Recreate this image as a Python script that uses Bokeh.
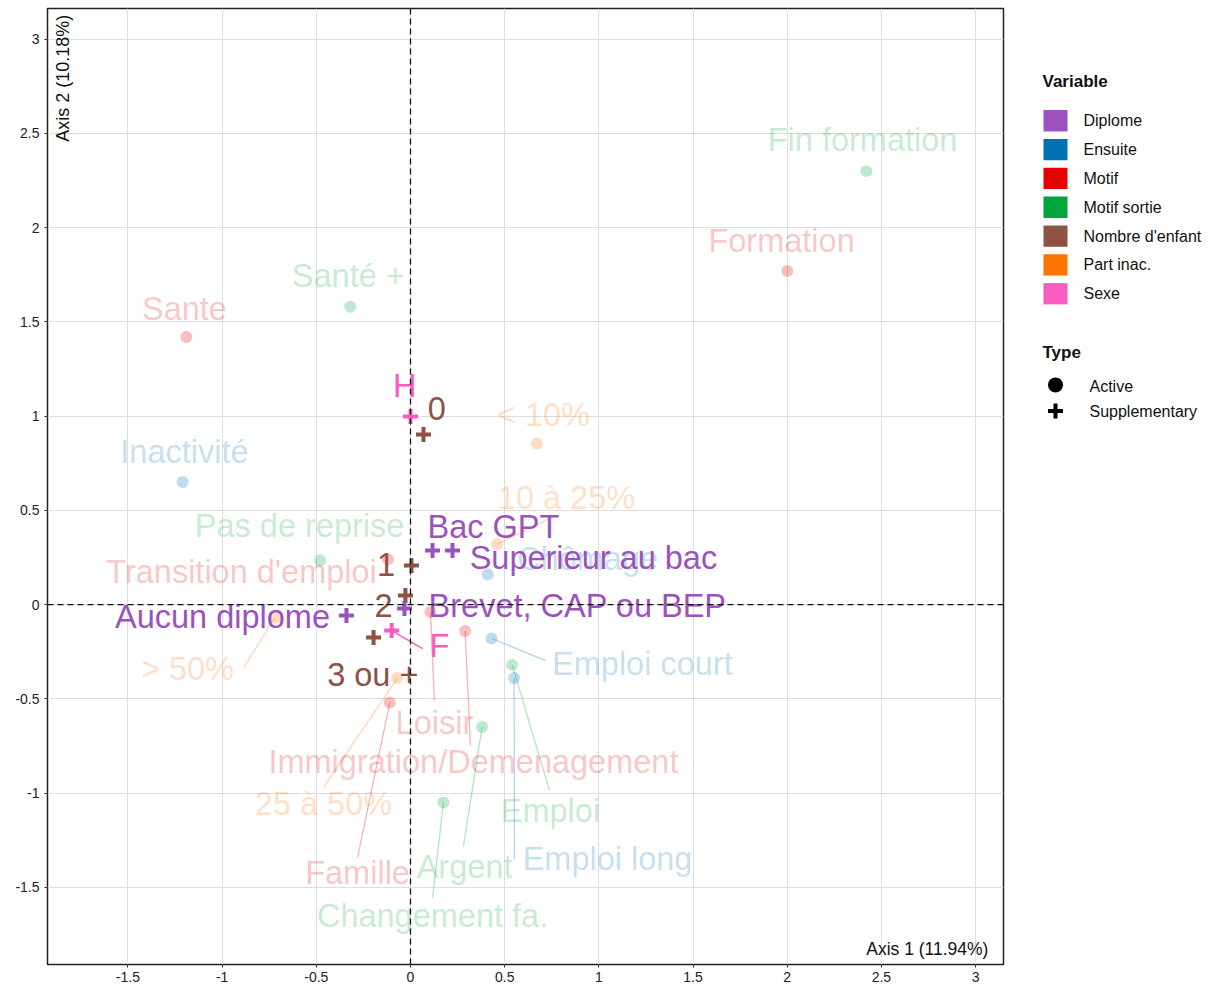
import math
from bokeh.plotting import figure
from bokeh.models import (Range1d, SingleIntervalTicker, CustomJSTickFormatter, Span, Label,
                          ColumnDataSource)
from bokeh.layouts import row
from bokeh.core.properties import value
from bokeh.embed import file_html
from bokeh.resources import INLINE

# ---------------- data ----------------
variables = ["Diplome", "Ensuite", "Motif", "Motif sortie", "Nombre d'enfant", "Part inac.", "Sexe"]
var_colors = ["#9b52bd", "#0072b2", "#e60000", "#00a63a", "#8e5245", "#ff7500", "#f85cc0"]

# active categories
act_names = ["Fin formation", "Formation", "Santé +", "Sante", "Inactivité", "< 10%", "10 à 25%",
             "Pas de reprise", "Transition d'emploi", "Chômage", "Loisir",
             "Immigration/Demenagement", "Emploi court", "Emploi", "Emploi long", "Argent",
             "Changement fa.", "Famille", "25 à 50%", "> 50%"]
act_var = ["Motif sortie", "Motif", "Motif sortie", "Motif", "Ensuite", "Part inac.", "Part inac.",
           "Motif sortie", "Motif", "Ensuite", "Motif",
           "Motif", "Ensuite", "Motif sortie", "Ensuite", "Motif sortie",
           "Motif sortie", "Motif", "Part inac.", "Part inac."]
act_x = [2.42, 2.00, -0.32, -1.19, -1.21, 0.67, 0.46, -0.48, -0.12, 0.41, 0.106,
         0.29, 0.43, 0.54, 0.55, 0.38, 0.175, -0.11, -0.07, -0.72]
act_y = [2.30, 1.77, 1.58, 1.42, 0.65, 0.855, 0.32, 0.234, 0.24, 0.16, -0.04,
         -0.14, -0.18, -0.32, -0.39, -0.65, -1.05, -0.52, -0.39, -0.07]
act_lx = [2.40, 1.97, -0.33, -1.20, -1.20, 0.706, 0.828, -0.589, -0.897, 0.94, 0.127,
          0.334, 1.231, 0.743, 1.046, 0.287, 0.117, -0.281, -0.462, -1.184]
act_ly = [2.463, 1.927, 1.746, 1.571, 0.807, 1.008, 0.563, 0.419, 0.175, 0.24, -0.626,
          -0.833, -0.313, -1.093, -1.348, -1.391, -1.651, -1.422, -1.056, -0.34]
# repel segment end points (None = no segment)
act_sx = [None, None, None, None, None, None, 0.77, None, None, None, 0.127,
          0.318, 0.717, 0.738, 0.552, 0.281, 0.117, -0.281, -0.462, -0.886]
act_sy = [None, None, None, None, None, None, 0.472, None, None, None, -0.51,
          -0.748, -0.297, -0.987, -1.35, -1.285, -1.555, -1.343, -0.971, -0.334]

# supplementary categories
sup_names = ["H", "0", "1", "Bac GPT", "Superieur au bac", "2", "Brevet, CAP ou BEP",
             "Aucun diplome", "3 ou +", "F"]
sup_var = ["Sexe", "Nombre d'enfant", "Nombre d'enfant", "Diplome", "Diplome", "Nombre d'enfant",
           "Diplome", "Diplome", "Nombre d'enfant", "Sexe"]
sup_x = [0.0, 0.069, 0.005, 0.117, 0.223, -0.027, -0.032, -0.34, -0.196, -0.10]
sup_y = [0.998, 0.902, 0.207, 0.287, 0.287, 0.048, -0.021, -0.058, -0.175, -0.138]
sup_lx = [-0.03, 0.14, -0.13, 0.44, 0.971, -0.143, 0.887, -0.998, -0.20, 0.154]
sup_ly = [1.16, 1.04, 0.21, 0.409, 0.249, -0.005, -0.005, -0.064, -0.372, -0.218]
sup_sx = [None, None, None, None, None, None, None, None, None, 0.064]
sup_sy = [None, None, None, None, None, None, None, None, None, -0.234]

x_title = "Axis 1 (11.94%)"
y_title = "Axis 2 (10.18%)"

cmap = dict(zip(variables, var_colors))
FONT = "Liberation Sans"
LBL_SIZE = "32.5px"

# ---------------- main plot ----------------
p = figure(width=1008, height=988, x_range=Range1d(-1.927, 3.148), y_range=Range1d(-1.91, 3.163),
           output_backend="svg", toolbar_location=None,
           min_border_left=47, min_border_right=5, min_border_top=8, min_border_bottom=24)
p.background_fill_color = "white"
p.border_fill_color = "white"
p.outline_line_color = "#222222"
p.outline_line_width = 1.5

for ax in (p.xaxis, p.yaxis):
    ax.ticker = SingleIntervalTicker(interval=0.5)
    ax.formatter = CustomJSTickFormatter(code="return String(Math.round(tick*10)/10);")
    ax.axis_line_color = None
    ax.major_tick_in = 0
    ax.major_tick_out = 3
    ax.major_tick_line_color = "#333333"
    ax.minor_tick_line_color = None
    ax.major_label_text_font = FONT
    ax.major_label_text_font_size = "14px"
    ax.major_label_text_color = "#222222"
p.xaxis.major_label_standoff = 3
p.yaxis.major_label_standoff = 4
p.xgrid.ticker = SingleIntervalTicker(interval=0.5)
p.ygrid.ticker = SingleIntervalTicker(interval=0.5)
p.grid.grid_line_color = "#dedede"
p.grid.grid_line_width = 1

p.add_layout(Span(location=0, dimension="height", line_color="#111111", line_dash="6 4", line_width=1.3))
p.add_layout(Span(location=0, dimension="width", line_color="#111111", line_dash="6 4", line_width=1.3))

# segments
def segs(xs, ys, sxs, sys_, vars_):
    x0, y0, x1, y1, c = [], [], [], [], []
    for a, b, sa, sb, v in zip(xs, ys, sxs, sys_, vars_):
        if sa is None:
            continue
        x0.append(a); y0.append(b); x1.append(sa); y1.append(sb); c.append(cmap[v])
    return dict(x0=x0, y0=y0, x1=x1, y1=y1, c=c)

aseg = ColumnDataSource(segs(act_x, act_y, act_sx, act_sy, act_var))
p.segment("x0", "y0", "x1", "y1", source=aseg, line_color="c", line_alpha=0.3, line_width=1.3)

asrc = ColumnDataSource(dict(x=act_x, y=act_y, lx=act_lx, ly=act_ly, t=act_names,
                             c=[cmap[v] for v in act_var]))
p.scatter("x", "y", source=asrc, marker="circle", size=12, fill_color="c", fill_alpha=0.25,
          line_color=None)
p.text("lx", "ly", text="t", source=asrc, text_color="c", text_alpha=0.24,
       text_font=value(FONT), text_font_size=LBL_SIZE, text_align="center", text_baseline="middle")

sseg = ColumnDataSource(segs(sup_x, sup_y, sup_sx, sup_sy, sup_var))
p.segment("x0", "y0", "x1", "y1", source=sseg, line_color="c", line_width=1.3)

ssrc = ColumnDataSource(dict(x=sup_x, y=sup_y, lx=sup_lx, ly=sup_ly, t=sup_names,
                             c=[cmap[v] for v in sup_var]))
p.text("lx", "ly", text="t", source=ssrc, text_color="c",
       text_font=value(FONT), text_font_size=LBL_SIZE, text_align="center", text_baseline="middle")
p.scatter("x", "y", source=ssrc, marker="cross", size=15, line_color="c", line_width=4)

p.add_layout(Label(x=3.068, y=-1.826, text=x_title, text_align="right", text_baseline="middle",
                   text_font=FONT, text_font_size="17.5px", text_color="#111111"))
p.add_layout(Label(x=-1.847, y=3.13, text=y_title, angle=math.pi / 2, text_align="right",
                   text_baseline="middle", text_font=FONT, text_font_size="18px",
                   text_color="#111111"))

# ---------------- legend panel ----------------
LH = 988
lg = figure(width=200, height=LH, x_range=Range1d(0, 200), y_range=Range1d(LH, 0),
            output_backend="svg", toolbar_location=None,
            min_border_left=0, min_border_right=0, min_border_top=0, min_border_bottom=0)
lg.axis.visible = False
lg.grid.visible = False
lg.outline_line_color = None

row_y = [116 + 29.8 * i for i in range(len(variables))]
lg.rect(x=[47] * len(variables), y=row_y, width=24, height=22, fill_color=var_colors, line_color=None)
lg.text(x=[75] * len(variables), y=row_y, text=variables, text_font=value(FONT),
        text_font_size="16px", text_baseline="middle", text_color="#111111")
lg.text(x=[34, 34], y=[75, 356], text=["Variable", "Type"], text_font=value(FONT),
        text_font_size="17px", text_font_style="bold", text_baseline="middle", text_color="#111111")
lg.scatter(x=[47], y=[389], marker="circle", size=15, fill_color="black", line_color=None)
lg.scatter(x=[47], y=[416], marker="cross", size=15, line_color="black", line_width=4)
lg.text(x=[81, 81], y=[391, 417], text=["Active", "Supplementary"], text_font=value(FONT),
        text_font_size="16px", text_baseline="middle", text_color="#111111")

layout = row(p, lg)
open("out.html", "w").write(file_html(layout, INLINE))
